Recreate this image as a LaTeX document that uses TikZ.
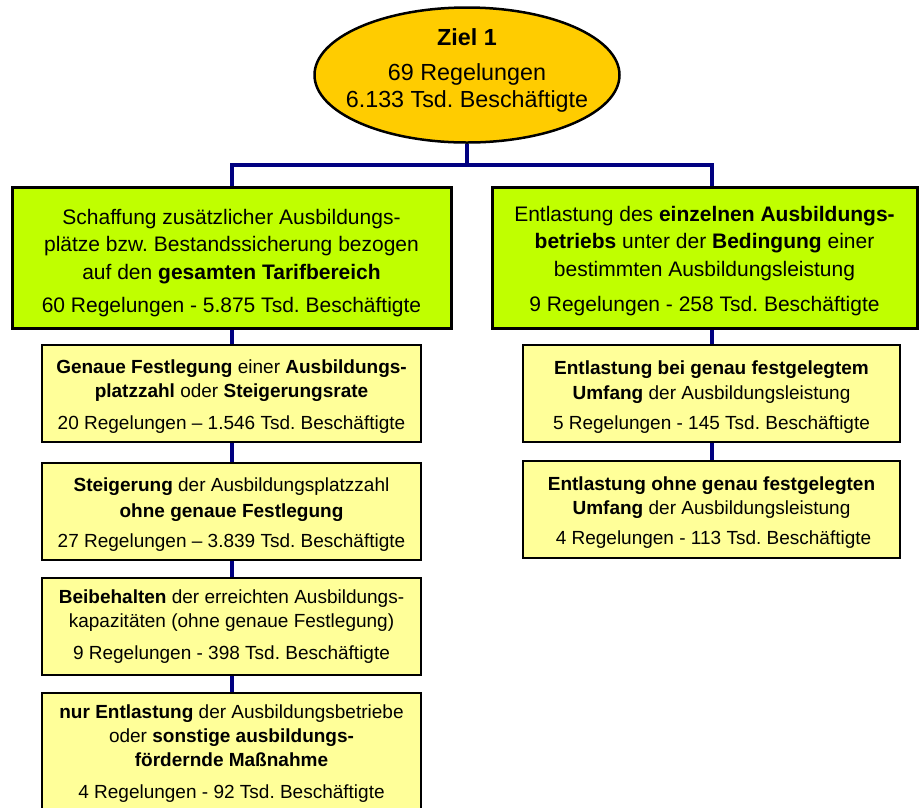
\documentclass[tikz,border=0pt]{standalone}
\usepackage{fontspec}
\setmainfont{Liberation Sans}
\usetikzlibrary{shapes.geometric,backgrounds}
\definecolor{goldfill}{HTML}{FFCC00}
\definecolor{limefill}{HTML}{C0FF00}
\definecolor{paleyellow}{HTML}{FFFF99}
\definecolor{navyline}{HTML}{000080}
\frenchspacing
\begin{document}
\begin{tikzpicture}[x=1pt,y=-1pt,
  goalnode/.style={ellipse,draw=black,line width=2.5pt,fill=goldfill,inner sep=0pt,
    minimum width=305,minimum height=135},
  goaltext/.style={align=center,inner sep=0pt,font=\fontsize{23.3}{27}\selectfont},
  greenbox/.style={rectangle,draw=black,line width=3pt,fill=limefill,inner sep=0pt,
    minimum height=141},
  greentext/.style={align=center,inner sep=0pt,font=\fontsize{21}{27.5}\selectfont},
  yellowbox/.style={rectangle,draw=black,line width=1.8pt,fill=paleyellow,inner sep=0pt,
    minimum height=97},
  yellowtext/.style={align=center,inner sep=0pt,font=\fontsize{19}{24}\selectfont},
  conn/.style={draw=navyline,line width=4pt}]
\useasboundingbox (0,0) rectangle (920,807);
\clip (0,0) rectangle (920,807);

% goal ellipse
\node[goalnode] (ziel) at (467,75) {};
\node[goaltext] (zieltext) at (467,70) {\textbf{Ziel 1}\\[8pt]69 Regelungen\\6.133 Tsd. Beschäftigte};

% green boxes
\node[greenbox,minimum width=439] (lg) at (231.5,257.5) {};
\node[greentext] (lgtext) at (231.5,263)
  {Schaffung zusätzlicher Ausbildungs-\\plätze bzw. Bestandssicherung bezogen\\auf den \textbf{gesamten Tarifbereich}\\[5.5pt]60 Regelungen - 5.875 Tsd. Beschäftigte};
\node[greenbox,minimum width=425] (rg) at (704.5,257.5) {};
\node[greentext] (rgtext) at (704.5,261)
  {Entlastung des \textbf{einzelnen Ausbildungs-}\\\textbf{betriebs} unter der \textbf{Bedingung} einer\\bestimmten Ausbildungsleistung\\[7.5pt]9 Regelungen - 258 Tsd. Beschäftigte};

% left yellow boxes
\node[yellowbox,minimum width=379] (ly1) at (231.5,393.5) {};
\node[yellowtext] (ly1text) at (231.5,396.5)
  {\textbf{Genaue Festlegung} einer \textbf{Ausbildungs-}\\\textbf{platzzahl} oder \textbf{Steigerungsrate}\\[8pt]20 Regelungen -- 1.546 Tsd. Beschäftigte};
\node[yellowbox,minimum width=379] (ly2) at (231.5,511.5) {};
\node[yellowtext] (ly2text) at (231.5,515)
  {\textbf{Steigerung} der Ausbildungsplatzzahl\\[2pt]\textbf{ohne genaue Festlegung}\\[6pt]27 Regelungen -- 3.839 Tsd. Beschäftigte};
\node[yellowbox,minimum width=379] (ly3) at (231.5,626.5) {};
\node[yellowtext] (ly3text) at (231.5,626.5)
  {\textbf{Beibehalten} der erreichten Ausbildungs-\\kapazitäten (ohne genaue Festlegung)\\[8pt]9 Regelungen - 398 Tsd. Beschäftigte};
\node[yellowbox,minimum width=379,minimum height=119] (ly4) at (231.5,752.5) {};
\node[yellowtext] (ly4text) at (231.5,753.5)
  {\textbf{nur Entlastung} der Ausbildungsbetriebe\\oder \textbf{sonstige ausbildungs-}\\\textbf{fördernde Maßnahme}\\[8pt]4 Regelungen - 92 Tsd. Beschäftigte};

% right yellow boxes
\node[yellowbox,minimum width=377] (ry1) at (711.5,393.5) {};
\node[yellowtext] (ry1text) at (711.5,397)
  {\textbf{Entlastung bei genau festgelegtem}\\[1pt]\textbf{Umfang} der Ausbildungsleistung\\[6pt]5 Regelungen - 145 Tsd. Beschäftigte};
\node[yellowbox,minimum width=377] (ry2) at (711.5,509.5) {};
\node[yellowtext] (ry2text) at (711.5,513)
  {\textbf{Entlastung ohne genau festgelegten}\\\textbf{Umfang} der Ausbildungsleistung\\[6pt]\hspace*{4pt}4 Regelungen - 113 Tsd. Beschäftigte};

\coordinate (hub) at (467,165);
\begin{scope}[on background layer]
  \draw[conn] (ziel.south) -- (hub);
  \draw[conn] (lg.north -| ly1.north) |- (hub) -| (rg.north -| ry1.north);
  \draw[conn] (lg.south -| ly1.north) -- (ly1.north);
  \draw[conn] (ly1.south) -- (ly2.north);
  \draw[conn] (ly2.south) -- (ly3.north);
  \draw[conn] (ly3.south) -- (ly4.north);
  \draw[conn] (rg.south -| ry1.north) -- (ry1.north);
  \draw[conn] (ry1.south) -- (ry2.north);
\end{scope}
\end{tikzpicture}
\end{document}
